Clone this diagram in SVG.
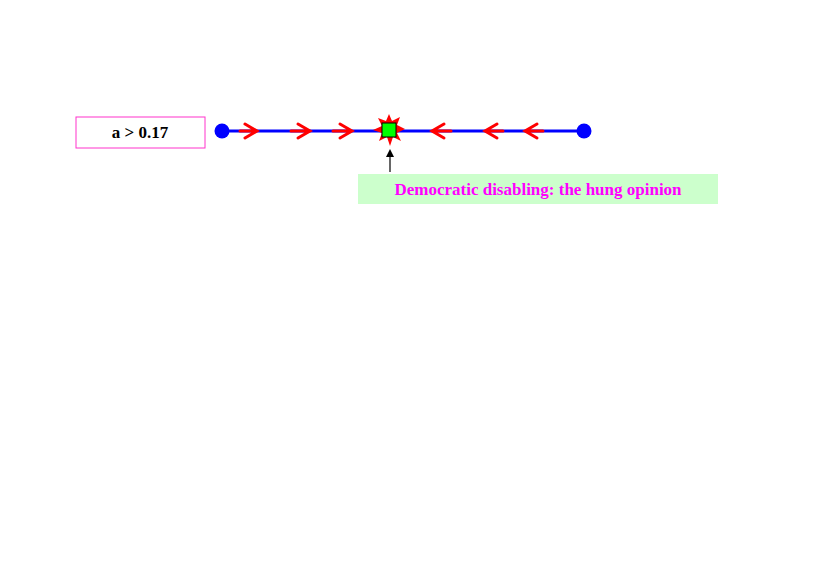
<svg xmlns="http://www.w3.org/2000/svg" width="830" height="587" viewBox="0 0 830 587">
<style>
.ch{fill:none;stroke:#ff0000;stroke-width:3;stroke-linecap:round;stroke-linejoin:miter}
</style>
<rect width="830" height="587" fill="#fff"/>
<g id="label-a"><rect x="76" y="117" width="129" height="31" fill="#fff" stroke="#ff33cc" stroke-width="1"/>
<text x="140" y="138" text-anchor="middle" font-family="Liberation Serif, serif" font-weight="bold" font-size="17">a &gt; 0.17</text></g>
<g id="connectors">
<line x1="222" y1="131" x2="584" y2="131" stroke="#0000ff" stroke-width="3"/>
<g class="ch">
<path d="M240 131H257M245 124L257 131L245 138"/>
<path d="M291 131H310M298 124L310 131L298 138"/>
<path d="M333 131H352M340 124L352 131L340 138"/>
<path d="M451 131H432M444 124L432 131L444 138"/>
<path d="M503 131H485M497 124L485 131L497 138"/>
<path d="M543 131H525M537 124L525 131L537 138"/>
</g>
<line x1="390" y1="172" x2="390" y2="156" stroke="#000" stroke-width="1.2"/>
<path d="M386 157L390 149L394 157Z" fill="#000"/>
</g>
<g id="left-end"><circle cx="222" cy="131" r="7.5" fill="#0000ff"/></g>
<g id="right-end"><circle cx="584" cy="131" r="7.5" fill="#0000ff"/></g>
<g id="fixed-point">
<polygon points="389,114 392,121 400,117 397,125 405,129 397,133 401,141 393,137 390,146 387,137 379,141 382,133 373,130 382,126 378,118 386,121" fill="#ff0000"/>
<rect x="382" y="123" width="14" height="14" fill="#00ff00" stroke="#000" stroke-width="1"/>
</g>
<g id="caption"><rect x="358" y="174" width="360" height="30" fill="#ccffcc"/>
<text x="538" y="195" text-anchor="middle" font-family="Liberation Serif, serif" font-weight="bold" font-size="17" fill="#ff00ff">Democratic disabling: the hung opinion</text></g>
</svg>
